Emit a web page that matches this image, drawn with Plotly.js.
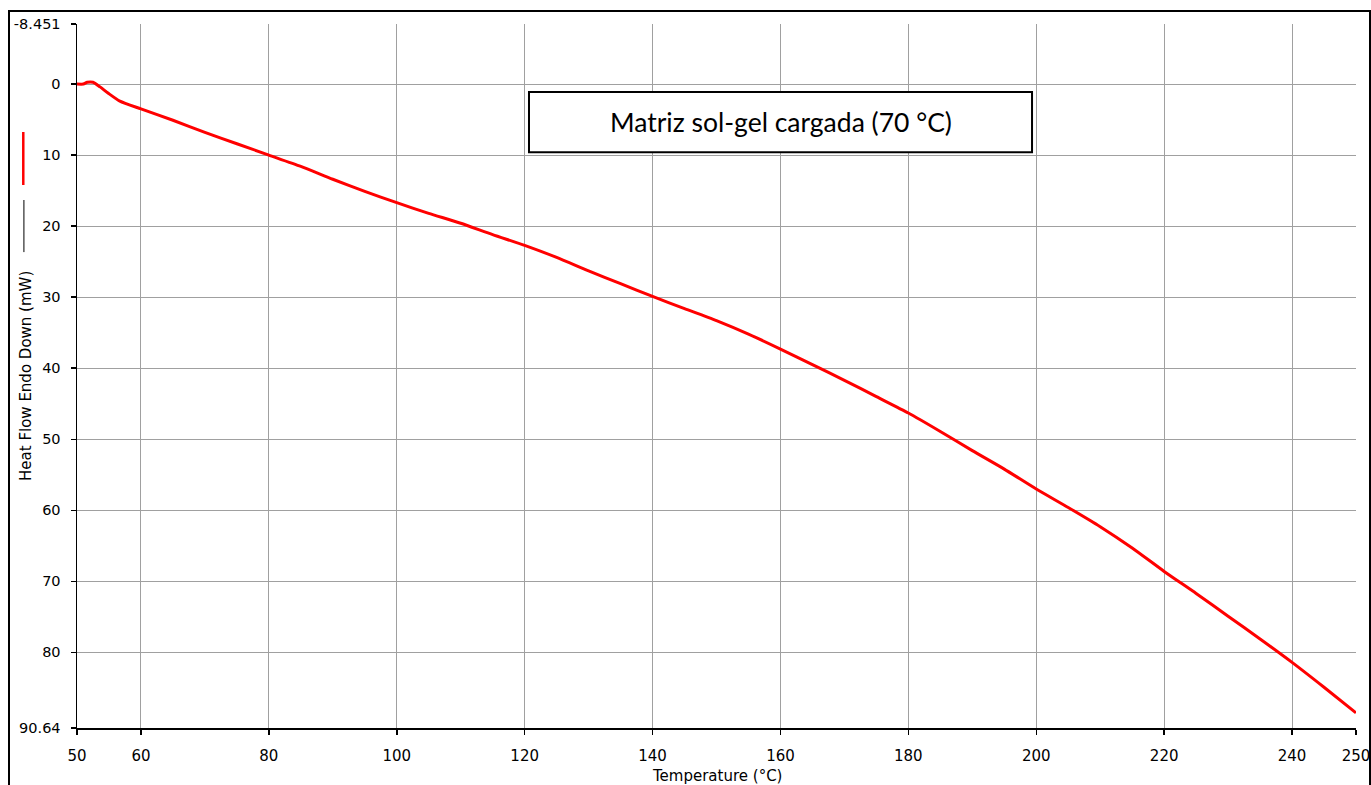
<!DOCTYPE html>
<html>
<head>
<meta charset="utf-8">
<script src="https://cdn.plot.ly/plotly-3.0.1.min.js"></script>
<style>
  html, body { margin: 0; padding: 0; background: #fff; overflow: hidden; }
  #chart { position: absolute; left: 0; top: 0; width: 1371px; height: 785px; }
  #frame { position: absolute; left: 8px; top: 10px; width: 1359px; height: 800px;
           border: 2px solid #000; pointer-events: none; }
</style>
</head>
<body>
<div id="chart"></div>
<div id="frame"></div>
<script>
// Temperature (°C)
const temperature = [50, 51, 51.6, 52.5, 53.6, 54.9, 56.7, 60, 65, 70, 75, 80, 85, 90, 95, 100,
  105, 110, 115, 120, 125, 130, 135, 140, 145, 150, 155, 160, 165, 170, 175, 180, 185, 190,
  195, 200, 205, 210, 215, 220, 225, 230, 235, 240, 245, 250];
// Heat Flow Endo Down (mW)
const heatFlow = [0, 0, -0.25, -0.25, 0.4, 1.3, 2.4, 3.5, 5.1, 6.8, 8.4, 10.0, 11.6, 13.4, 15.1, 16.7,
  18.2, 19.6, 21.2, 22.7, 24.4, 26.3, 28.1, 29.9, 31.6, 33.3, 35.2, 37.3, 39.5, 41.7, 44.0, 46.3, 48.9, 51.6,
  54.2, 57.0, 59.6, 62.3, 65.3, 68.6, 71.7, 74.9, 78.1, 81.4, 84.9, 88.5];

const xTickVals = [50, 60, 80, 100, 120, 140, 160, 180, 200, 220, 240, 250];
const xTickText = ['50', '60', '80', '100', '120', '140', '160', '180', '200', '220', '240', '250'];
const yTickVals = [-8.451, 0, 10, 20, 30, 40, 50, 60, 70, 80, 90.64];
const yTickText = ['-8.451', '0', '10', '20', '30', '40', '50', '60', '70', '80', '90.64'];

const xTitle = 'Temperature (°C)';
const yTitle = 'Heat Flow Endo Down (mW)';
const boxLabel = 'Matriz sol-gel cargada (70 °C)';

const xTickFont = { family: 'DejaVu Sans, Liberation Sans, Arial, sans-serif', size: 15, color: '#000' };
const yTickFont = { family: 'DejaVu Sans, Liberation Sans, Arial, sans-serif', size: 14.5, color: '#000' };
const titleFont = { family: 'DejaVu Sans, Liberation Sans, Arial, sans-serif', size: 15, color: '#000' };

const trace = {
  x: temperature, y: heatFlow, type: 'scatter', mode: 'lines',
  line: { color: '#ff0000', width: 3, shape: 'spline', smoothing: 0.6 }, hoverinfo: 'skip', showlegend: false
};

const layout = {
  width: 1371, height: 785,
  margin: { l: 77, r: 15, t: 24, b: 57, pad: 0 },
  paper_bgcolor: '#fff', plot_bgcolor: '#fff',
  showlegend: false,
  xaxis: {
    range: [50, 250], tickmode: 'array', tickvals: xTickVals, ticktext: xTickText,
    showgrid: true, gridcolor: '#a0a0a0', gridwidth: 1,
    showline: true, linecolor: '#000', linewidth: 1.5,
    ticks: 'outside', ticklen: 5, tickcolor: '#000', tickwidth: 1.5,
    ticklabelstandoff: 8,
    tickfont: xTickFont, zeroline: false, fixedrange: true
  },
  yaxis: {
    range: [90.64, -8.451], tickmode: 'array', tickvals: yTickVals, ticktext: yTickText,
    showgrid: true, gridcolor: '#a0a0a0', gridwidth: 1,
    showline: true, linecolor: '#000', linewidth: 1.5,
    ticks: 'outside', ticklen: 5, tickcolor: '#000', tickwidth: 1.5,
    ticklabelstandoff: 7,
    tickfont: yTickFont, zeroline: false, fixedrange: true
  },
  shapes: [
    // annotation box
    { type: 'rect', xref: 'paper', yref: 'paper', x0: 0.3534, x1: 0.7467, y0: 0.818, y1: 0.9034,
      line: { color: '#000', width: 2 }, fillcolor: '#fff', layer: 'above' },
    // legend swatch lines next to y title
    { type: 'line', xref: 'paper', yref: 'paper', x0: -0.0420, x1: -0.0420, y0: 0.7713, y1: 0.8466,
      line: { color: '#ff0000', width: 2.5 } },
    { type: 'line', xref: 'paper', yref: 'paper', x0: -0.0415, x1: -0.0415, y0: 0.676, y1: 0.75,
      line: { color: '#000', width: 1 } }
  ],
  annotations: [
    { text: boxLabel, xref: 'paper', yref: 'paper', x: 0.5501, y: 0.8607,
      xanchor: 'center', yanchor: 'middle', showarrow: false,
      font: { family: 'Lato, Open Sans, sans-serif', size: 26.5, color: '#000' } },
    { text: xTitle, xref: 'paper', yref: 'paper', x: 0.5, y: -0.068,
      xanchor: 'center', yanchor: 'middle', showarrow: false, font: titleFont },
    { text: yTitle, xref: 'paper', yref: 'paper', x: -0.0399, y: 0.5, textangle: -90,
      xanchor: 'center', yanchor: 'middle', showarrow: false, font: titleFont }
  ]
};

Plotly.newPlot('chart', [trace], layout, { displayModeBar: false, staticPlot: true });
</script>
</body>
</html>
